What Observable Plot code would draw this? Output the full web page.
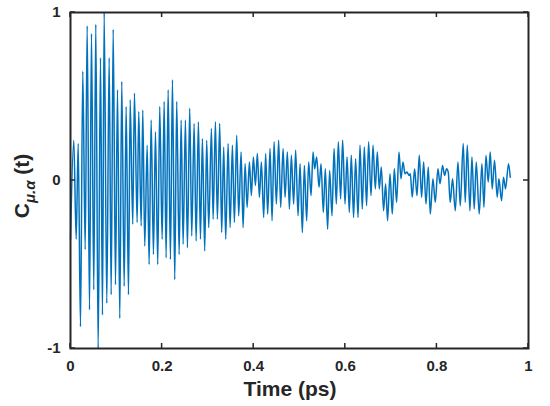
<!DOCTYPE html>
<html>
<head>
<meta charset="utf-8">
<script src="https://cdn.jsdelivr.net/npm/d3@7"></script>
<script src="https://cdn.jsdelivr.net/npm/@observablehq/plot@0.6"></script>
<style>
  html, body { margin: 0; padding: 0; background: #fff; }
  #chart svg { display: block; }
</style>
</head>
<body>
<div id="chart"></div>
<script>
const time = [
  0.000,0.0072,0.0124,0.0168,0.0218,0.0268,0.0321,0.0364,0.0415,0.0458,0.0508,0.0552,0.0604,0.0655,0.0698,0.0735,
  0.0792,0.0844,0.0888,0.0932,0.0982,0.1026,0.1076,0.1119,0.1172,0.1215,0.1266,0.1303,0.1359,0.1396,0.1455,0.1490,
  0.1543,0.1578,0.1621,0.1674,0.1717,0.1761,0.1811,0.1855,0.1905,0.1948,0.2001,0.2045,0.2088,0.2132,0.2182,0.2226,
  0.2276,0.2319,0.2372,0.2416,0.2459,0.2509,0.2553,0.2603,0.2647,0.2699,0.2743,0.2793,0.2837,0.2880,0.2930,0.2974,
  0.3018,0.3077,0.3114,0.3164,
  0.3207,0.3258,0.3301,0.3345,0.3389,0.3441,0.3485,0.3535,0.3578,0.3629,0.3672,0.3725,0.3768,0.3812,0.3856,0.3906,
  0.3949,0.3993,0.4037,0.4080,0.4124,0.4168,0.4218,0.4261,0.4305,0.4357,0.4401,0.4445,0.4495,0.4545,0.4589,0.4641,
  0.4685,0.4735,0.4779,
  0.4822,0.4872,0.4916,0.4968,0.5012,0.5062,0.5106,0.5156,0.5200,0.5252,0.5296,0.5331,0.5374,0.5427,0.5470,0.5520,
  0.5564,0.5614,0.5658,0.5710,0.5754,0.5804,0.5848,0.5898,0.5942,0.5994,0.6038,0.6088,0.6131,0.6181,0.6225,0.6278,
  0.6321,0.6371,0.6415,
  0.6465,0.6509,0.6561,0.6605,0.6655,0.6699,0.6742,0.6786,0.6836,0.6880,0.6923,0.6976,0.7026,0.7070,0.7120,0.7172,
  0.7216,0.7260,0.7303,0.7347,0.7391,0.7419,0.7462,0.7513,0.7565,0.7615,0.7666,0.7710,0.7762,0.7812,0.7855,0.7914,
  0.7964,
  0.8023,0.8067,0.8124,0.8168,0.8211,0.8248,0.8291,0.8342,0.8401,0.8460,0.8510,0.8575,0.8619,0.8663,0.8721,0.8765,
  0.8815,0.8859,0.8924,0.8983,0.9027,0.9071,0.9121,0.9164,0.9208,0.9258,0.9317,0.9354,0.9411,0.9455,0.9498,0.9564,
  0.9601
];
const corr = [
  -0.35,0.24,-0.35,0.22,-0.87,0.65,-0.41,0.92,-0.77,0.875,-0.65,0.93,-1.0,0.73,-0.80,1.0,
  -0.73,0.73,-0.68,0.90,-0.62,0.54,-0.82,0.59,-0.63,0.44,-0.68,0.48,-0.26,0.52,-0.25,0.41,
  -0.27,0.42,-0.39,0.21,-0.50,0.36,-0.44,0.29,-0.50,0.44,-0.35,0.47,-0.46,0.54,-0.47,0.60,
  -0.59,0.47,-0.44,0.36,-0.38,0.36,-0.40,0.43,-0.33,0.34,-0.36,0.35,-0.35,0.25,-0.42,0.24,
  -0.28,0.31,-0.23,0.35,
  -0.23,0.34,-0.31,0.20,-0.35,0.22,-0.28,0.21,-0.25,0.27,-0.21,0.17,-0.28,0.10,-0.16,0.11,
  -0.09,0.14,-0.03,0.16,-0.10,0.11,-0.22,0.16,-0.20,0.19,-0.24,0.23,-0.14,0.24,-0.16,0.19,
  -0.10,0.17,-0.17,
  0.15,-0.14,0.18,-0.21,0.10,-0.31,0.09,-0.24,0.11,-0.09,0.17,0.07,0.14,-0.04,0.10,-0.19,
  0.07,-0.29,0.06,-0.21,0.19,-0.14,0.23,-0.11,0.24,-0.14,0.14,-0.19,0.15,-0.22,0.13,-0.22,
  0.21,-0.17,0.20,
  -0.15,0.23,-0.09,0.21,-0.05,0.17,-0.05,0.08,-0.18,-0.02,-0.24,0.04,-0.20,0.07,-0.13,0.17,
  0.01,0.11,0.04,0.05,0.03,0.04,-0.10,0.07,-0.09,0.15,-0.10,0.11,-0.14,0.08,-0.20,0.01,
  -0.13,
  0.07,-0.02,0.09,0.03,0.07,0.05,-0.13,0.01,-0.18,0.11,-0.15,0.22,-0.13,0.21,-0.18,0.14,
  -0.17,0.11,-0.20,0.10,-0.16,0.15,-0.01,0.17,-0.05,0.12,-0.10,0.01,-0.12,0.02,-0.05,0.10,
  0.02
];
const xTicks = [0, 0.2, 0.4, 0.6, 0.8, 1];
const yTicks = [-1, 0, 1];
const xLabel = "Time (ps)";
const yLabelMain = "C";
const yLabelSub = "μ.α";
const yLabelTail = " (t)";

const data = time.map((t, i) => ({t, c: corr[i]}));
const axisColor = "#262626";

// inward ticks on all four sides (MATLAB box style), drawn from Plot's scales
function boxTicks(index, scales, values, dim) {
  const g = d3.create("svg:g").attr("stroke", axisColor).attr("stroke-width", 1.5);
  const L = 5;
  const top = dim.marginTop, bottom = dim.height - dim.marginBottom;
  const left = dim.marginLeft, right = dim.width - dim.marginRight;
  for (const v of xTicks) {
    const x = scales.x(v);
    g.append("line").attr("x1", x).attr("x2", x).attr("y1", bottom).attr("y2", bottom - L);
    g.append("line").attr("x1", x).attr("x2", x).attr("y1", top).attr("y2", top + L);
  }
  for (const v of yTicks) {
    const y = scales.y(v);
    g.append("line").attr("y1", y).attr("y2", y).attr("x1", left).attr("x2", left + L);
    g.append("line").attr("y1", y).attr("y2", y).attr("x1", right).attr("x2", right - L);
  }
  return g.node();
}

const chart = Plot.plot({
  width: 550,
  height: 406,
  marginLeft: 70,
  marginRight: 22,
  marginTop: 12,
  marginBottom: 58,
  style: {fontFamily: "'Liberation Sans', Arial, sans-serif", fontSize: "15px", fontWeight: "bold", color: "#262626", background: "#fff"},
  x: {domain: [0, 1]},
  y: {domain: [-1, 1]},
  marks: [
    Plot.line(data, {x: "t", y: "c", stroke: "#0072BD", strokeWidth: 1.5, curve: "monotone-x"}),
    Plot.axisX({ticks: xTicks, tickSize: 0, tickPadding: 12, fontSize: 15, fontWeight: "bold", tickFormat: d => String(d), label: null}),
    Plot.axisY({ticks: yTicks, tickSize: 0, tickPadding: 10, fontSize: 15, fontWeight: "bold", tickFormat: d => String(d), label: null}),
    Plot.frame({stroke: axisColor, strokeWidth: 2}),
    boxTicks
  ]
});

const svg = d3.select(chart);
svg.append("text")
  .attr("x", 290).attr("y", 396)
  .attr("text-anchor", "middle")
  .attr("font-size", 21).attr("font-weight", "bold").attr("fill", axisColor)
  .text(xLabel);

const yl = svg.append("text")
  .attr("transform", "translate(28.5,186) rotate(-90)")
  .attr("text-anchor", "middle")
  .attr("font-size", 21).attr("font-weight", "bold").attr("fill", axisColor);
yl.append("tspan").text(yLabelMain);
yl.append("tspan").attr("dy", 6).attr("font-size", 15).attr("font-style", "italic").text(yLabelSub);
yl.append("tspan").attr("dy", -6).text(yLabelTail);

document.getElementById("chart").appendChild(chart);
</script>
</body>
</html>
